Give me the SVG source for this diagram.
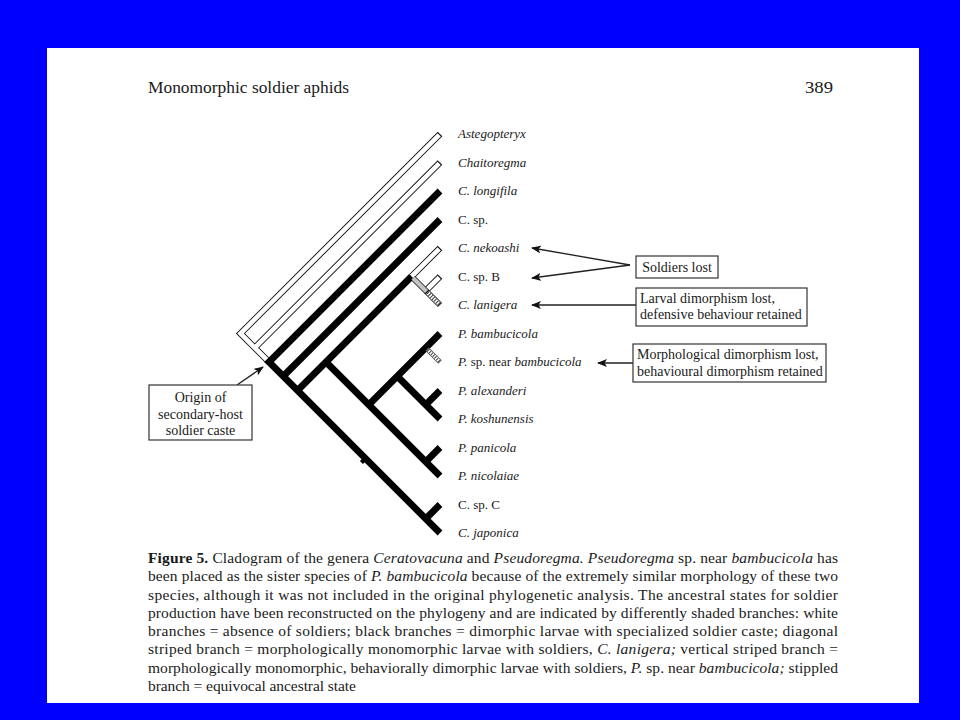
<svg xmlns="http://www.w3.org/2000/svg" width="960" height="720" viewBox="0 0 960 720">
<defs>
<style>
.lbl{font-family:"Liberation Serif","Times New Roman",serif;font-size:13px;fill:#1a1a1a}
.it{font-style:italic}
.box{fill:#fff;stroke:#333;stroke-width:1.2}
.bt{font-family:"Liberation Serif","Times New Roman",serif;font-size:14px;fill:#1a1a1a}
.cap{font-family:"Liberation Serif","Times New Roman",serif;font-size:15.5px;fill:#1a1a1a}
.blk{fill:none;stroke:#000;stroke-width:6.8;stroke-linejoin:miter;stroke-linecap:butt}
.wo{fill:none;stroke:#111;stroke-width:6.5;stroke-linejoin:miter;stroke-linecap:butt}
.wi{fill:none;stroke:#fff;stroke-width:4.6;stroke-linejoin:miter;stroke-linecap:butt}
.arr{fill:none;stroke:#222;stroke-width:1.3;marker-end:url(#ah)}
</style>
<marker id="ah" viewBox="0 0 10 8" refX="9" refY="4" markerWidth="10" markerHeight="8" markerUnits="userSpaceOnUse" orient="auto">
<path d="M0,0 L10,4 L0,8 L2.5,4 Z" fill="#111"/>
</marker>
</defs>
<rect x="0" y="0" width="960" height="720" fill="#0000ff"/>
<rect x="47" y="48" width="872" height="655" fill="#fff"/>

<g id="header">
<text class="lbl" x="148" y="93" style="font-size:16px" textLength="201" lengthAdjust="spacingAndGlyphs">Monomorphic soldier aphids</text>
<text class="lbl" x="805" y="93" style="font-size:16px" textLength="28" lengthAdjust="spacingAndGlyphs">389</text>
</g>

<g id="tree">
<polyline class="wo" points="440,134 240.5,333.5 254.75,347.75 269,362"/>
<polyline class="wo" points="440,162.5 254.75,347.75"/>
<polyline class="wo" points="411.5,276.5 440,248"/>
<polyline class="wo" points="425.75,290.75 440,276.5"/>
<polyline class="wi" points="439.2,134.8 240.5,333.5 254.75,347.75 269,362"/>
<polyline class="wi" points="439.2,163.3 254.75,347.75"/>
<polyline class="wi" points="411.5,276.5 439.2,248.8"/>
<polyline class="wi" points="425.75,290.75 439.2,277.3"/>
<polyline class="blk" points="440,191 269,362 440,533"/>
<polyline class="blk" points="440,219.5 283.25,376.25"/>
<polyline class="blk" points="440,504.5 425.75,518.75"/>
<polyline class="blk" points="411.5,276.5 297.5,390.5"/>
<polyline class="blk" points="326,362 440,476"/>
<polyline class="blk" points="440,447.5 425.75,461.75"/>
<polyline class="blk" points="368.75,404.75 440,333.5"/>
<polyline class="blk" points="397.25,376.25 440,419"/>
<polyline class="blk" points="440,390.5 425.75,404.75"/>
<line x1="362" y1="459" x2="365" y2="462" stroke="#000" stroke-width="6"/>
<line x1="413" y1="278" x2="427" y2="292" stroke="#222" stroke-width="6"/>
<line x1="413" y1="278" x2="427" y2="292" stroke="#c4c4c4" stroke-width="4.2"/>
<line x1="426.5" y1="291.5" x2="440" y2="305" stroke="#222" stroke-width="6"/>
<line x1="427.5" y1="292.5" x2="439.2" y2="304.2" stroke="#fff" stroke-width="4.2"/>
<line x1="427.5" y1="292.5" x2="439.2" y2="304.2" stroke="#333" stroke-width="4.2" stroke-dasharray="1 1.6"/>
<line x1="427" y1="349" x2="440" y2="362" stroke="#555" stroke-width="5"/>
<line x1="428" y1="350" x2="439.3" y2="361.3" stroke="#fff" stroke-width="3.4"/>
<line x1="428" y1="350" x2="439.3" y2="361.3" stroke="#444" stroke-width="3.4" stroke-dasharray="1 1.5"/>
</g>

<g id="taxa">
<text class="lbl it" x="458" y="138">Astegopteryx</text>
<text class="lbl it" x="458" y="166.5">Chaitoregma</text>
<text class="lbl it" x="458" y="195">C. longifila</text>
<text class="lbl" x="458" y="223.5">C. sp.</text>
<text class="lbl it" x="458" y="252">C. nekoashi</text>
<text class="lbl" x="458" y="280.5">C. sp. B</text>
<text class="lbl it" x="458" y="309">C. lanigera</text>
<text class="lbl it" x="458" y="337.5">P. bambucicola</text>
<text class="lbl" x="458" y="366"><tspan class="it">P.</tspan> sp. near <tspan class="it">bambucicola</tspan></text>
<text class="lbl it" x="458" y="394.5">P. alexanderi</text>
<text class="lbl it" x="458" y="423">P. koshunensis</text>
<text class="lbl it" x="458" y="451.5">P. panicola</text>
<text class="lbl it" x="458" y="480">P. nicolaiae</text>
<text class="lbl" x="458" y="508.5">C. sp. C</text>
<text class="lbl it" x="458" y="537">C. japonica</text>
</g>

<g id="connectors">
<line class="arr" x1="630" y1="265" x2="532" y2="248"/>
<line class="arr" x1="630" y1="265" x2="532" y2="278"/>
<line class="arr" x1="636" y1="305" x2="532" y2="305"/>
<line class="arr" x1="633" y1="363" x2="598" y2="363"/>
<line class="arr" x1="237" y1="385" x2="263" y2="367"/>
</g>

<g id="soldiers-lost">
<rect class="box" x="636" y="256" width="82" height="22"/>
<text class="bt" x="677" y="272" text-anchor="middle">Soldiers lost</text>
</g>
<g id="larval-dimorphism-lost">
<rect class="box" x="636" y="288" width="171" height="38"/>
<text class="bt" x="640" y="303">Larval dimorphism lost,</text>
<text class="bt" x="640" y="319">defensive behaviour retained</text>
</g>
<g id="morphological-dimorphism-lost">
<rect class="box" x="633" y="344" width="193" height="38"/>
<text class="bt" x="637" y="359">Morphological dimorphism lost,</text>
<text class="bt" x="637" y="376">behavioural dimorphism retained</text>
</g>
<g id="origin">
<rect class="box" x="149" y="385" width="103" height="55"/>
<text class="bt" x="200.5" y="402" text-anchor="middle">Origin of</text>
<text class="bt" x="200.5" y="419" text-anchor="middle">secondary-host</text>
<text class="bt" x="200.5" y="435" text-anchor="middle">soldier caste</text>
</g>

<g id="caption">
<text class="cap" x="148" y="563" textLength="690" lengthAdjust="spacing"><tspan font-weight="bold">Figure 5.</tspan> Cladogram of the genera <tspan class="it">Ceratovacuna</tspan> and <tspan class="it">Pseudoregma. Pseudoregma</tspan> sp. near <tspan class="it">bambucicola</tspan> has</text>
<text class="cap" x="148" y="581" textLength="690" lengthAdjust="spacing">been placed as the sister species of <tspan class="it">P. bambucicola</tspan> because of the extremely similar morphology of these two</text>
<text class="cap" x="148" y="600" textLength="690" lengthAdjust="spacing">species, although it was not included in the original phylogenetic analysis. The ancestral states for soldier</text>
<text class="cap" x="148" y="618" textLength="690" lengthAdjust="spacing">production have been reconstructed on the phylogeny and are indicated by differently shaded branches: white</text>
<text class="cap" x="148" y="636" textLength="690" lengthAdjust="spacing">branches = absence of soldiers; black branches = dimorphic larvae with specialized soldier caste; diagonal</text>
<text class="cap" x="148" y="654" textLength="690" lengthAdjust="spacing">striped branch = morphologically monomorphic larvae with soldiers, <tspan class="it">C. lanigera;</tspan> vertical striped branch =</text>
<text class="cap" x="148" y="673" textLength="690" lengthAdjust="spacing">morphologically monomorphic, behaviorally dimorphic larvae with soldiers, <tspan class="it">P.</tspan> sp. near <tspan class="it">bambucicola;</tspan> stippled</text>
<text class="cap" x="148" y="691" textLength="208" lengthAdjust="spacing">branch = equivocal ancestral state</text>
</g>
</svg>
